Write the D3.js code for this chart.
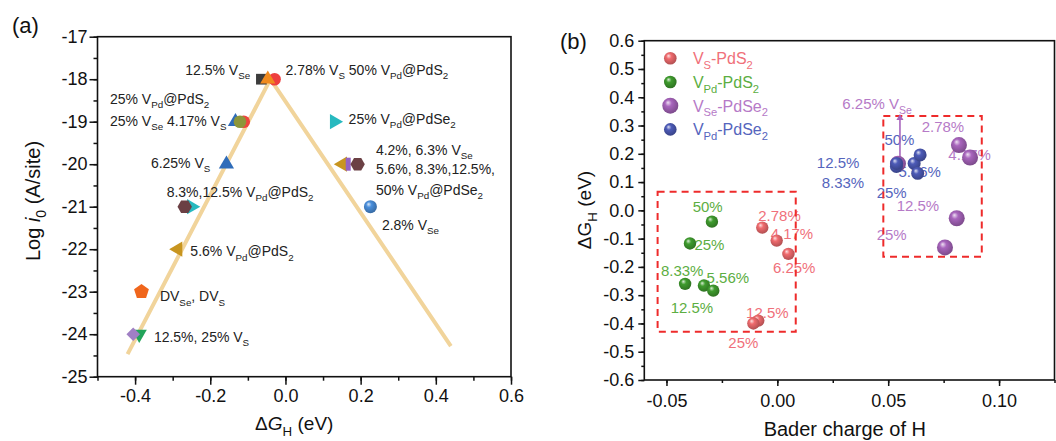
<!DOCTYPE html>
<html>
<head>
<meta charset="utf-8">
<script src="https://cdn.jsdelivr.net/npm/d3@7"></script>
<style>
  html, body { margin: 0; padding: 0; background: #fff; }
  svg { display: block; font-family: "Liberation Sans", Arial, sans-serif; }
</style>
</head>
<body>
<svg id="chart" width="1056" height="441"></svg>
<script>
// ---------- panel (a): volcano plot ----------
const volcanoDG = [-0.42, -0.04, 0.44];
const volcanoLogI0 = [-24.47, -18, -24.28];

const aNames = ['12.5% VSe', '2.78% VS', '50% VPd@PdS2', '4.17% VS', '25% VSe', '25% VPd@PdS2',
  '6.25% VS', '8.3% VPd@PdS2', '12.5% VPd@PdS2', '5.6% VPd@PdS2', 'DV', '25% VS', '12.5% VS',
  '25% VPd@PdSe2', '4.2% VSe', '6.3% VSe', '50% VPd@PdSe2', '2.8% VSe'];
const aDeltaG = [-0.064, -0.029, -0.047, -0.111, -0.133, -0.121,
  -0.157, -0.250, -0.268, -0.286, -0.383, -0.389, -0.405,
  0.130, 0.152, 0.167, 0.192, 0.226];
const aLogI0 = [-18, -18, -18, -19, -19, -19,
  -20, -21, -21, -22, -23, -24, -24,
  -19, -20, -20, -20, -21];

const aXTicks = [-0.4, -0.2, 0.0, 0.2, 0.4, 0.6];
const aYTicks = [-25, -24, -23, -22, -21, -20, -19, -18, -17];

const aLabels = [
  { t: '12.5% V_{Se}', x: -0.094, y: -17.90, end: true },
  { t: '2.78% V_{S} 50% V_{Pd}@PdS_{2}', x: 0.0, y: -17.90 },
  { t: '25% V_{Pd}@PdS_{2}', x: -0.467, y: -18.59 },
  { t: '25% V_{Se} 4.17% V_{S}', x: -0.467, y: -19.10 },
  { t: '6.25% V_{S}', x: -0.358, y: -20.08 },
  { t: '8.3%,12.5% V_{Pd}@PdS_{2}', x: -0.316, y: -20.77 },
  { t: '5.6% V_{Pd}@PdS_{2}', x: -0.253, y: -22.17 },
  { t: 'DV_{Se}, DV_{S}', x: -0.334, y: -23.23 },
  { t: '12.5%, 25% V_{S}', x: -0.350, y: -24.19 },
  { t: '25% V_{Pd}@PdSe_{2}', x: 0.168, y: -19.06 },
  { t: '4.2%, 6.3% V_{Se}', x: 0.2406, y: -19.79 },
  { t: '5.6%, 8.3%,12.5%,', x: 0.2406, y: -20.23 },
  { t: '50% V_{Pd}@PdSe_{2}', x: 0.2406, y: -20.73 },
  { t: '2.8% V_{Se}', x: 0.2565, y: -21.55 }
];

// ---------- panel (b): Bader charge vs dG ----------
const bSeries = ['V_{S}-PdS_{2}', 'V_{Pd}-PdS_{2}', 'V_{Se}-PdSe_{2}', 'V_{Pd}-PdSe_{2}'];
const bCharge = [
  [-0.0068, -0.0003, 0.0050, -0.0086, -0.0108],
  [-0.0295, -0.0394, -0.0416, -0.0331, -0.0289],
  [0.0544, 0.0819, 0.0869, 0.0809, 0.0756],
  [0.0617, 0.0633, 0.0644, 0.0537, 0.0538]
];
const bDeltaG = [
  [-0.061, -0.107, -0.154, -0.390, -0.400],
  [-0.040, -0.117, -0.260, -0.266, -0.284],
  [0.165, 0.231, 0.187, -0.028, -0.131],
  [0.166, 0.131, 0.196, 0.155, 0.166]
];
const bXTicks = [-0.05, 0.00, 0.05, 0.10];
const bYTicks = [-0.6, -0.5, -0.4, -0.3, -0.2, -0.1, 0.0, 0.1, 0.2, 0.3, 0.4, 0.5, 0.6];

const bLabels = [
  [ { t: '2.78%', x: -0.0086, y: -0.037 }, { t: '4.17%', x: -0.0030, y: -0.102 },
    { t: '6.25%', x: -0.0020, y: -0.223 }, { t: '12.5%', x: -0.0141, y: -0.382 },
    { t: '25%', x: -0.0221, y: -0.486 } ],
  [ { t: '50%', x: -0.0382, y: -0.005 }, { t: '25%', x: -0.0374, y: -0.140 },
    { t: '8.33%', x: -0.0525, y: -0.231 }, { t: '5.56%', x: -0.0319, y: -0.256 },
    { t: '12.5%', x: -0.0481, y: -0.362 } ],
  [ { t: '6.25% V_{Se}', x: 0.0293, y: 0.358 }, { t: '2.78%', x: 0.0651, y: 0.276 },
    { t: '4.17%', x: 0.0771, y: 0.178 }, { t: '12.5%', x: 0.0538, y: -0.001 },
    { t: '25%', x: 0.0448, y: -0.105 } ],
  [ { t: '50%', x: 0.0483, y: 0.231 }, { t: '12.5%', x: 0.0178, y: 0.149 },
    { t: '8.33%', x: 0.0200, y: 0.078 }, { t: '25%', x: 0.0448, y: 0.043 },
    { t: '5.56%', x: 0.0546, y: 0.119 } ]
];
// dashed boxes [x0, x1, y0, y1] in data units
const bBoxes = [[-0.054, 0.0083, -0.429, 0.066], [0.0478, 0.0922, -0.164, 0.334]];
// arrow for 6.25% VSe
const bArrow = [[0.0553, 0.178], [0.0553, 0.337]];

// ---------- styles ----------
const aStyle = {
  '12.5% VSe': ['square', '#3c3c3c'], '2.78% VS': ['circle', '#ee3f3f'],
  '50% VPd@PdS2': ['triUp', '#f08a1e'], '4.17% VS': ['circle', '#ee4540'],
  '25% VSe': ['triUp', '#2f6cb9'], '25% VPd@PdS2': ['circle', '#8d963a'],
  '6.25% VS': ['triUp', '#2f6cb9'], '8.3% VPd@PdS2': ['triRight', '#27b9bf'],
  '12.5% VPd@PdS2': ['hexagon', '#6b4044'], '5.6% VPd@PdS2': ['triLeft', '#c8951f'],
  'DV': ['pentagon', '#f0661c'], '25% VS': ['triDown', '#22a45a'],
  '12.5% VS': ['diamond', '#a07fc4'], '25% VPd@PdSe2': ['triRight', '#27b9bf'],
  '4.2% VSe': ['triLeft', '#c8951f'], '6.3% VSe': ['bar', '#9462c2'],
  '50% VPd@PdSe2': ['hexagon', '#6b4044'], '2.8% VSe': ['sphere', '#4a8fdc']
};
const bColors = ['#f06b6e', '#3f9c2e', '#a865bd', '#4d5bb8'];
const bTextColors = ['#f0707a', '#5cae42', '#b67ac7', '#5565bd'];
const bRadius = [6.2, 6.2, 8, 6.5];

const svg = d3.select('#chart');
const defs = svg.append('defs');
const font = '"Liberation Sans", Arial, sans-serif';

function sphereGradient(id, color) {
  const g = defs.append('radialGradient').attr('id', id)
    .attr('cx', '45%').attr('cy', '42%').attr('r', '60%')
    .attr('fx', '35%').attr('fy', '30%');
  g.append('stop').attr('offset', '0%').attr('stop-color', d3.interpolateRgb(color, '#fff')(0.8));
  g.append('stop').attr('offset', '35%').attr('stop-color', color);
  g.append('stop').attr('offset', '100%').attr('stop-color', d3.color(color).darker(0.9));
}

// text with _{sub} and *italic* pieces
function rich(sel, str, size) {
  const parts = str.split(/(_\{[^}]*\}|\*[^*]*\*)/).filter(s => s.length);
  let shift = 0;
  parts.forEach(p => {
    const t = sel.append('tspan');
    if (p.startsWith('_{')) {
      t.text(p.slice(2, -1)).style('font-size', (size * 0.7) + 'px').attr('dy', size * 0.3 - shift);
      shift = size * 0.3;
    } else {
      if (p.startsWith('*')) { t.style('font-style', 'italic'); p = p.slice(1, -1); }
      t.text(p).attr('dy', -shift);
      shift = 0;
    }
  });
  return sel;
}

function polygon(n, r, a0) {
  const pts = d3.range(n).map(i => [r * Math.cos(a0 + i * 2 * Math.PI / n), r * Math.sin(a0 + i * 2 * Math.PI / n)]);
  return 'M' + pts.map(p => p.join(',')).join('L') + 'Z';
}

function markerPath(shape) {
  switch (shape) {
    case 'square': return [d3.symbol(d3.symbolSquare, 115)(), 0];
    case 'diamond': return [d3.symbol(d3.symbolSquare, 92)(), 45];
    case 'triUp': return [d3.symbol(d3.symbolTriangle, 100)(), 0];
    case 'triDown': return [d3.symbol(d3.symbolTriangle, 100)(), 180];
    case 'triLeft': return [d3.symbol(d3.symbolTriangle, 100)(), -90];
    case 'triRight': return [d3.symbol(d3.symbolTriangle, 100)(), 90];
    case 'hexagon': return [polygon(6, 7.2, 0), 0];
    case 'pentagon': return [polygon(5, 7.8, -Math.PI / 2), 0];
    case 'bar': return ['M-2.5,-6.5h5v13h-5Z', 0];
    default: return [d3.symbol(d3.symbolCircle, 125)(), 0];
  }
}

function frameAxes(g, x, y, w, h, xt, yt, xMinor, yMinor, xFmt, yFmt, opts) {
  const ax = g.append('g').attr('transform', `translate(0,${h})`)
    .call(d3.axisBottom(x).tickValues(xMinor).tickSize(opts.minor).tickFormat(''));
  const ax2 = g.append('g').attr('transform', `translate(0,${h})`)
    .call(d3.axisBottom(x).tickValues(xt).tickSize(opts.major).tickSizeOuter(0)
      .tickPadding(opts.xPad).tickFormat(xFmt));
  const ay = g.append('g')
    .call(d3.axisLeft(y).tickValues(yMinor).tickSize(opts.minor).tickFormat(''));
  const ay2 = g.append('g')
    .call(d3.axisLeft(y).tickValues(yt).tickSize(opts.major).tickSizeOuter(0)
      .tickPadding(opts.yPad).tickFormat(yFmt));
  [ax, ax2, ay, ay2].forEach(a => {
    a.select('.domain').remove();
    a.selectAll('line').attr('stroke', '#111').attr('stroke-width', 1.5);
    a.selectAll('text').attr('fill', '#111').style('font-size', '18px').style('font-family', font);
  });
  g.append('rect').attr('width', w).attr('height', h)
    .attr('fill', 'none').attr('stroke', '#111').attr('stroke-width', 1.6);
}

// ================= panel (a) =================
(function() {
  const left = 97.5, top = 36.7, w = 511 - 97.5, h = 376.7 - 36.7;
  const x = d3.scaleLinear().domain([-0.5, 0.6]).range([0, w]);
  const y = d3.scaleLinear().domain([-25, -17]).range([h, 0]);
  const g = svg.append('g').attr('transform', `translate(${left},${top})`);

  frameAxes(g, x, y, w, h, aXTicks, aYTicks,
    d3.range(-5, 7).map(d => d / 10), d3.range(-50, -33).map(d => d / 2),
    d => d.toFixed(1), d => d, { major: 8, minor: 4, xPad: 5, yPad: 2 });

  // volcano line
  g.append('path')
    .attr('d', d3.line().x(i => x(volcanoDG[i])).y(i => y(volcanoLogI0[i]))(d3.range(volcanoDG.length)))
    .attr('fill', 'none').attr('stroke', '#f1d49b').attr('stroke-width', 4);

  sphereGradient('sphA', '#4a8fdc');

  aNames.forEach((name, i) => {
    const [shape, color] = aStyle[name];
    const cx = x(aDeltaG[i]), cy = y(aLogI0[i]);
    if (shape === 'sphere') {
      g.append('circle').attr('cx', cx).attr('cy', cy).attr('r', 6.5).attr('fill', 'url(#sphA)');
      return;
    }
    const [d, rot] = markerPath(shape);
    g.append('path').attr('d', d)
      .attr('transform', `translate(${cx},${cy}) rotate(${rot})`)
      .attr('fill', color);
  });

  aLabels.forEach(l => {
    const t = g.append('text')
      .attr('x', x(l.x)).attr('y', y(l.y))
      .attr('text-anchor', l.end ? 'end' : 'start')
      .attr('fill', '#222').style('font-size', '14px');
    rich(t, l.t, 14);
  });

  rich(svg.append('text').attr('x', left + w / 2 - 10).attr('y', 430)
    .attr('text-anchor', 'middle').style('font-size', '19px').attr('fill', '#111'), 'Δ*G*_{H} (eV)', 19);
  rich(svg.append('text').attr('transform', 'translate(40,201) rotate(-90)')
    .attr('text-anchor', 'middle').style('font-size', '20px').attr('fill', '#111'), 'Log *i*_{0} (A/site)', 20);
  svg.append('text').attr('x', 12).attr('y', 33).style('font-size', '22px').attr('fill', '#111').text('(a)');
})();

// ================= panel (b) =================
(function() {
  const left = 644.3, top = 40.7, w = 1054.5 - 644.3, h = 380 - 40.7;
  const x = d3.scaleLinear().domain([-0.06, 0.125]).range([0, w]);
  const y = d3.scaleLinear().domain([-0.6, 0.6]).range([h, 0]);
  const g = svg.append('g').attr('transform', `translate(${left},${top})`);

  frameAxes(g, x, y, w, h, bXTicks, bYTicks,
    d3.range(-2, 6).map(d => d * 0.025), d3.range(-12, 13).map(d => d * 0.05),
    d => d.toFixed(2), d => d.toFixed(1), { major: 6, minor: 3, xPad: 8, yPad: 4 });

  bColors.forEach((c, i) => sphereGradient('sphB' + i, c));

  // labels underneath markers
  bLabels.forEach((list, s) => {
    list.forEach(l => {
      const t = g.append('text').attr('x', x(l.x)).attr('y', y(l.y))
        .attr('fill', bTextColors[s]).style('font-size', '15px');
      rich(t, l.t, 15);
    });
  });

  // dashed boxes
  bBoxes.forEach(b => {
    g.append('rect')
      .attr('x', x(b[0])).attr('y', y(b[3]))
      .attr('width', x(b[1]) - x(b[0])).attr('height', y(b[2]) - y(b[3]))
      .attr('fill', 'none').attr('stroke', '#ee2b2b').attr('stroke-width', 2)
      .attr('stroke-dasharray', '7,5');
  });

  // arrow to 6.25% VSe
  g.append('line')
    .attr('x1', x(bArrow[0][0])).attr('y1', y(bArrow[0][1]))
    .attr('x2', x(bArrow[1][0])).attr('y2', y(bArrow[1][1]) + 4)
    .attr('stroke', '#a865bd').attr('stroke-width', 1.6);
  g.append('path')
    .attr('d', d3.symbol(d3.symbolTriangle, 22)())
    .attr('transform', `translate(${x(bArrow[1][0])},${y(bArrow[1][1]) + 3})`)
    .attr('fill', '#a865bd');

  // spheres
  bCharge.forEach((xs, s) => {
    g.selectAll(null).data(xs.map((v, i) => [v, bDeltaG[s][i]])).enter()
      .append('circle')
      .attr('cx', d => x(d[0])).attr('cy', d => y(d[1]))
      .attr('r', bRadius[s]).attr('fill', `url(#sphB${s})`);
  });

  // legend
  const lg = g.append('g').attr('transform', 'translate(26,17.6)');
  bSeries.forEach((name, i) => {
    const row = lg.append('g').attr('transform', `translate(0,${i * 23.7})`);
    row.append('circle').attr('r', bRadius[i] === 8 ? 8 : 6.3).attr('fill', `url(#sphB${i})`);
    rich(row.append('text').attr('x', 22.6).attr('y', 6).attr('fill', bTextColors[i])
      .style('font-size', '16px'), name, 16);
  });

  svg.append('text').attr('x', 844.8).attr('y', 436)
    .attr('text-anchor', 'middle').style('font-size', '20px').attr('fill', '#111')
    .text('Bader charge of H');
  rich(svg.append('text').attr('transform', 'translate(591,210) rotate(-90)')
    .attr('text-anchor', 'middle').style('font-size', '19px').attr('fill', '#111'), 'ΔG_{H} (eV)', 19);
  svg.append('text').attr('x', 560).attr('y', 49).style('font-size', '22px').attr('fill', '#111').text('(b)');
})();
</script>
</body>
</html>
